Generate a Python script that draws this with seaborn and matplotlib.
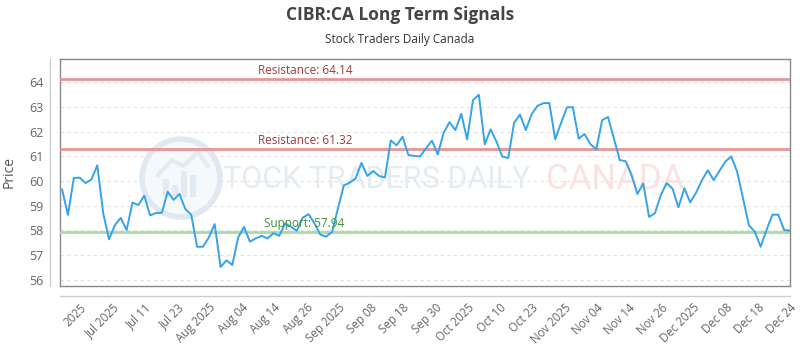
import matplotlib
matplotlib.use("Agg")
import matplotlib.pyplot as plt
import matplotlib.lines as mlines
import matplotlib.patches as mpatches
import numpy as np
import pandas as pd
import seaborn as sns

# ---------------- data ----------------
prices = [
    59.67, 58.63, 60.13, 60.14, 59.92, 60.07, 60.64, 58.72, 57.64, 58.22,
    58.51, 58.02, 59.13, 59.03, 59.41, 58.61, 58.71, 58.72, 59.57, 59.24,
    59.48, 58.87, 58.64, 57.34, 57.34, 57.72, 58.26, 56.52, 56.79, 56.60,
    57.72, 58.14, 57.55, 57.68, 57.78, 57.68, 57.89, 57.78, 58.29, 58.15,
    57.99, 58.52, 58.66, 58.29, 57.83, 57.75, 57.94, 58.90, 59.83, 59.94,
    60.11, 60.74, 60.21, 60.41, 60.21, 60.15, 61.65, 61.45, 61.80, 61.06,
    61.02, 61.00, 61.33, 61.64, 61.08, 61.96, 62.39, 62.07, 62.73, 61.69,
    63.28, 63.50, 61.49, 62.10, 61.60, 60.99, 60.94, 62.36, 62.70, 62.07,
    62.72, 63.05, 63.16, 63.17, 61.70, 62.36, 62.99, 63.00, 61.72, 61.91,
    61.50, 61.29, 62.47, 62.60, 61.73, 60.85, 60.81, 60.25, 59.48, 59.91,
    58.55, 58.70, 59.44, 59.92, 59.69, 58.94, 59.71, 59.14, 59.53, 60.04,
    60.44, 60.04, 60.42, 60.80, 61.00, 60.38, 59.30, 58.21, 57.95, 57.34,
    58.02, 58.64, 58.64, 58.02, 57.99,
]
tick_labels = [
    "2025", "Jul 2025", "Jul 11", "Jul 23", "Aug 2025", "Aug 04", "Aug 14",
    "Aug 26", "Sep 2025", "Sep 08", "Sep 18", "Sep 30", "Oct 2025", "Oct 10",
    "Oct 23", "Nov 2025", "Nov 04", "Nov 14", "Nov 26", "Dec 2025", "Dec 08",
    "Dec 18", "Dec 24",
]
resistance_levels = [64.14, 61.32]
support_levels = [57.94]
y_ticks = [56, 57, 58, 59, 60, 61, 62, 63, 64]

df = pd.DataFrame({"idx": np.arange(len(prices)), "price": prices})

# ---------------- style ----------------
sns.set_style("white")
plt.rcParams["font.family"] = ["Open Sans", "DejaVu Sans"]

W, H = 800, 350
fig = plt.figure(figsize=(8, 3.5), dpi=100)
L, R, T, B = 60, 790, 59, 286
ax = fig.add_axes([L / W, 1 - B / H, (R - L) / W, (B - T) / H])

sns.lineplot(data=df, x="idx", y="price", ax=ax, color="#36a2eb",
             linewidth=1.4, zorder=5)

ax.set_xlim(-0.35, len(prices) - 1)
ax.set_ylim(55.75, 64.95)

# grid
ax.set_yticks(y_ticks)
ax.yaxis.grid(True, color="#e2e2e2", linestyle=(0, (3, 3)), linewidth=0.8)
ax.xaxis.grid(False)
ax.set_axisbelow(True)

# x ticks evenly spaced
tick_pos = np.linspace(3.1, len(prices) - 1, len(tick_labels))
ax.set_xticks(tick_pos)
ax.set_xticklabels(tick_labels, rotation=45, ha="right", rotation_mode="anchor")
ax.tick_params(axis="x", length=0, pad=11, labelsize=8.3, colors="#666666")
ax.tick_params(axis="y", length=0, pad=12, labelsize=9, colors="#666666")
ax.set_xlabel("")
ax.set_ylabel("Price", fontsize=10, color="#555555")
ax.yaxis.set_label_coords((17 - L) / (R - L), 0.5)

for s in ax.spines.values():
    s.set_color("#888888")
    s.set_linewidth(1.0)

# outer axis lines
fig.add_artist(mlines.Line2D([50 / W, 50 / W], [1 - T / H, 1 - B / H],
                             color="#cccccc", linewidth=1.0))
fig.add_artist(mlines.Line2D([L / W, R / W], [1 - 296 / H, 1 - 296 / H],
                             color="#cccccc", linewidth=1.0))

# support / resistance lines
for lv in resistance_levels:
    ax.axhline(lv, color="#e89595", linewidth=2.0, zorder=3)
    ax.text(33.3, lv + 0.08, f"Resistance: {lv:.2f}", color="#a33a3a",
            fontsize=8.5, ha="left", va="bottom", zorder=6)
for lv in support_levels:
    ax.axhline(lv, color="#a6dca0", linewidth=2.0, zorder=3)
    ax.text(34.4, lv + 0.08, f"Support: {lv:.2f}", color="#3f8f3a",
            fontsize=8.5, ha="left", va="bottom", zorder=6)

# watermark (inside the axes, beneath the data)
ft = fig.transFigure
ax.text(205 / W, 1 - 180 / H, "STOCK TRADERS DAILY", fontsize=22,
        color="#e4ecf3", ha="left", va="center", zorder=1, transform=ft,
        family=["Roboto", "DejaVu Sans"])
ax.text(546 / W, 1 - 180 / H, "CANADA", fontsize=25, color="#fbe2e2",
        ha="left", va="center", zorder=1, transform=ft,
        family=["Roboto", "DejaVu Sans"])
ax.add_patch(mpatches.Ellipse((181 / W, 1 - 178 / H), 78 / W, 78 / H,
                              transform=ft, facecolor="#f6f9fb",
                              edgecolor="#e0e9f1", linewidth=4, zorder=1))
for bx, bh in [(163, 18), (172, 12), (181, 26), (190, 22)]:
    ax.add_patch(mpatches.Rectangle((bx / W, 1 - 197 / H), 6 / W, bh / H,
                                    transform=ft, facecolor="#e3ebf2",
                                    edgecolor="none", zorder=1))
ax.add_artist(mlines.Line2D([158 / W, 172 / W, 183 / W, 198 / W, 208 / W],
                            [1 - 175 / H, 1 - 160 / H, 1 - 166 / H,
                             1 - 152 / H, 1 - 166 / H],
                            transform=ft, color="#e3ebf2", linewidth=3,
                            zorder=1))

# titles
fig.text(0.5, 1 - 15 / H, "CIBR:CA Long Term Signals", ha="center",
         va="center", fontsize=12.5, fontweight="bold", color="#444444")
fig.text(0.5, 1 - 40 / H, "Stock Traders Daily Canada", ha="center",
         va="center", fontsize=8.5, color="#333333")

fig.savefig("out.png", dpi=100)
